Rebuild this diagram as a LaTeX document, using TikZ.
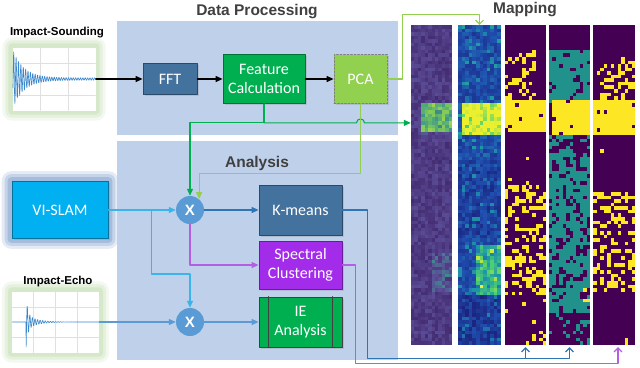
\documentclass[tikz,border=0pt]{standalone}
\usepackage{fontspec}
\setmainfont{Carlito}
\newfontfamily\headfont{Liberation Sans}
\usetikzlibrary{arrows.meta,calc,shadows,backgrounds}

\definecolor{panelblue}{HTML}{BFD1EA}
\definecolor{fftblue}{HTML}{43729F}
\definecolor{featgreen}{HTML}{00B050}
\definecolor{pcagreen}{HTML}{92D050}
\definecolor{slamcyan}{HTML}{00B0F0}
\definecolor{mixblue}{HTML}{5B9BD5}
\definecolor{specpurple}{HTML}{A32CEB}
\definecolor{slamline}{HTML}{3AB4EA}
\definecolor{steelline}{HTML}{2E75B6}
\definecolor{purpleline}{HTML}{B45FE3}
\definecolor{glowgreen}{HTML}{C5E0B4}
\definecolor{glowblue}{HTML}{7F9FCF}
\definecolor{tracecol}{HTML}{3A86CC}
% viridis stops
\definecolor{vir0}{HTML}{440154}
\definecolor{vir1}{HTML}{3B528B}
\definecolor{vir2}{HTML}{21918C}
\definecolor{vir3}{HTML}{5EC962}
\definecolor{vir4}{HTML}{FDE725}
% washed scale for the first map
\definecolor{pur0}{HTML}{3E2468}
\definecolor{pur1}{HTML}{5A4C96}
\definecolor{pur2}{HTML}{3C968C}
\definecolor{pur3}{HTML}{7CC85A}
\definecolor{pur4}{HTML}{DCE63C}
% brighter scale for the second map
\definecolor{blu0}{HTML}{1A1F78}
\definecolor{blu1}{HTML}{1F4FB0}
\definecolor{blu2}{HTML}{1E97A6}
\definecolor{blu3}{HTML}{4FD070}
\definecolor{blu4}{HTML}{F2F02A}

\tikzset{
  panel/.style={fill=panelblue, inner sep=0pt},
  paneltitle/.style={anchor=base, text=black!75, font=\headfont\bfseries\fontsize{15.5}{18}\selectfont},
  sigtitle/.style={anchor=base, font=\headfont\bfseries\fontsize{11.5}{14}\selectfont},
  plotbox/.style={fill=white, inner sep=0pt},
  procbox/.style={fill=#1, draw=#1!65!black, line width=0.8pt, text=white, align=center,
    inner sep=2pt, font=\fontsize{16}{18.5}\selectfont,
    drop shadow={opacity=0.25, shadow xshift=1.5pt, shadow yshift=-1.5pt}},
  mixer/.style={circle, fill=mixblue, text=white, minimum size=28pt, inner sep=0pt,
    font=\headfont\bfseries\fontsize{15}{15}\selectfont},
  strip/.style={inner sep=0pt, minimum height=320pt},
  gridline/.style={black!12, line width=0.5pt},
  trace/.style={tracecol, line width=0.6pt},
  flow/.style={line width=1.1pt, ->},
  mapflow/.style={line width=1.1pt, -{Straight Barb[length=4pt,width=8pt]}},
}

% one pixel of a map: colour scale, x, y, width, value
\newcommand{\mapcell}[5]{%
  \pgfmathtruncatemacro\seg{min(3,int(#5*4))}%
  \pgfmathtruncatemacro\nxt{\seg+1}%
  \pgfmathtruncatemacro\pct{(#5*4-\seg)*100}%
  \fill[#1\nxt!\pct!#1\seg] (#2,#3) rectangle ++(#4+0.15,3.71);}

\begin{document}
\begin{tikzpicture}[x=1pt, y=-1pt, line cap=round, line join=round, >={Triangle[length=7pt,width=6pt]}]
  \useasboundingbox (0,0) rectangle (640,367);
  % panels and headings
  \node[panel, minimum width=281pt, minimum height=114pt] (dp) at (257.5,78) {};
  \node[panel, minimum width=281pt, minimum height=219pt] (an) at (257.5,250.5) {};
  \node[paneltitle] (dptitle) at (257,15) {Data Processing};
  \node[paneltitle] (antitle) at (257,167) {Analysis};
  \node[paneltitle] (maptitle) at (525,13) {Mapping};
  \node[sigtitle] (soundtitle) at (57,35) {Impact-Sounding};
  \node[sigtitle] (echotitle) at (58,284) {Impact-Echo};

  % signal plots
  \node[plotbox, minimum width=83pt, minimum height=63pt] (sound) at (54,79) {};
  \node[plotbox, minimum width=87pt, minimum height=61pt] (echo) at (55.5,322) {};
  \foreach \gx in {40,68} \draw[gridline] (\gx,47.5) -- (\gx,110.5);
  \foreach \gy in {63,95} \draw[gridline] (12.5,\gy) -- (95.5,\gy);
  \foreach \gx in {33,55,77} \draw[gridline] (\gx,291.5) -- (\gx,352.5);
  \foreach \gy in {307,337} \draw[gridline] (12,\gy) -- (99,\gy);
  \draw[trace] plot[domain=13:95, samples=260] (\x, {79+(28*exp(-(\x-13)/11)+1.2)*sin(\x*151)});
  \draw[trace] plot[domain=12.5:98.5, samples=360] (\x, {322+(\x>26)*(21*exp(-max(0,\x-26)/1.5)+8*exp(-max(0,\x-26)/10))*sin((\x-26)*140+90)});

  % processing boxes
  \node[procbox=fftblue, minimum width=54pt, minimum height=31pt] (fft) at (170,79) {FFT};
  \node[procbox=featgreen, minimum width=82pt, minimum height=49pt] (feat) at (264,79) {Feature\\Calculation};
  \node[procbox=pcagreen, draw=black!50, dash pattern=on 2pt off 1.5pt, minimum width=53pt, minimum height=49pt] (pca) at (360.5,79) {PCA};
  \node[procbox=slamcyan, minimum width=96pt, minimum height=57pt] (slam) at (60,210) {VI-SLAM};
  \node[mixer] (x1) at (190,210) {X};
  \node[mixer] (x2) at (190,322) {X};
  \node[procbox=fftblue, minimum width=83pt, minimum height=50pt] (kmeans) at (300.5,210) {K-means};
  \node[procbox=specpurple, minimum width=83pt, minimum height=48pt] (spec) at (300.5,265) {Spectral\\Clustering};
  \node[procbox=featgreen, draw=black!75, minimum width=83pt, minimum height=50pt] (ie) at (300.5,322) {IE\\Analysis};
  \draw[black!75, line width=0.8pt] ([xshift=10pt]ie.north west) -- ([xshift=10pt]ie.south west);
  \draw[black!75, line width=0.8pt] ([xshift=-10pt]ie.north east) -- ([xshift=-10pt]ie.south east);

  % result maps
  \foreach \s/\cx/\w in {1/431.5/41, 2/479.5/43, 3/525.5/41, 4/569.5/41, 5/614/42}
    \node[strip, minimum width=\w pt] (strip\s) at (\cx,185) {};

  % glow behind the inputs
  \begin{scope}[on background layer]
    \fill[white] (0,0) rectangle (640,367);
    \foreach \n/\gc in {sound/glowgreen, echo/glowgreen, slam/glowblue}
      \foreach \g/\o in {10/0.2, 7/0.3, 4/0.45}
        \fill[\gc, opacity=\o, rounded corners=\g pt] ($(\n.south west)+(-\g,\g)$) rectangle ($(\n.north east)+(\g,-\g)$);
  \end{scope}

  % data processing chain
  \draw[flow] (sound.east) -- (fft.west);
  \draw[flow] (fft) -- (feat);
  \draw[flow] (feat) -- (pca);
  \draw[pcagreen, mapflow] (pca.east) -- ++(15,0) |- ([yshift=10pt]strip2.north) -- (strip2.north);
  \coordinate (fj) at ([yshift=-19pt]feat.south);
  \draw[featgreen, flow] (feat.south) -- (fj) -| (x1.north);
  \draw[featgreen, flow] (fj) -- ($(fj -| pca.south)+(-4,0)$) arc[start angle=180, end angle=360, radius=4] -- (fj -| strip1.west);
  \draw[pcagreen, flow] (pca.south) -- ++(0,70) -| (x1.50);

  % analysis
  \draw[slamline, flow] (slam.east) -- (x1.west);
  \draw[slamline, flow] (slam.east) ++(43,0) -- ++(0,64) -| (x2.north);
  \draw[mixblue, flow] (echo.east) -- (x2.west);
  \draw[steelline, flow] (x1) -- (kmeans);
  \draw[purpleline, flow] (x1.south) |- (spec.west);
  \draw[mixblue, flow] (x2) -- (ie);

  % clusters to maps
  \coordinate (kbus) at ($(strip3.south)+(0,13)$);
  \draw[steelline, mapflow] (kmeans.east) -- ++(25,0) |- ($(strip4.south)+(0,13)$) -- ([yshift=-2pt]strip4.south);
  \draw[steelline, mapflow] (kbus) -- ([yshift=-2pt]strip3.south);
  \draw[purpleline, mapflow] (spec.east) -- ++(13,0) |- ($(strip5.south)+(4,18)$) -- ([xshift=4pt,yshift=-2pt]strip5.south);

  % map pixels
  \pgfmathsetseed{2718}
  \foreach \row in {0,...,89} {
    \pgfmathsetmacro\yc{25+\row*3.55556}
    \foreach \cl in {0,...,11} {
      \pgfmathsetmacro\va{0.05+0.2*rnd+(\yc>100)*(\yc<134)*(\cl>1)*0.06+(\yc>103)*(\yc<130)*(\cl>2)*(0.3+0.3*rnd)+(\yc>250)*(\yc<290)*(\cl>5)*0.25*rnd}
      \pgfmathsetmacro\vb{min(0.99,max(0,0.12+0.22*rnd+(rnd>0.88)*0.2-(\yc>160)*(\yc<235)*0.06-(\yc>292)*0.1+(\yc>100)*(\yc<134)*(\cl>0)*(0.6+0.3*rnd)+(\yc>245)*(\yc<292)*(\cl>4)*(0.2+0.3*rnd)))}
      \pgfmathsetmacro\vc{rnd<(0.02+(\yc>50)*(\yc<100)*(\cl<9)*0.3+(\yc>99)*(\yc<131)*0.92+(\yc>185)*(\yc<295)*0.35+(\yc>330)*(\cl>7)*0.4)}
      \pgfmathsetmacro\rr{rnd}
      \pgfmathsetmacro\vd{ifthenelse(\rr<(\yc>99)*(\yc<133)*(\cl>0)*0.95+(\yc>285)*(\yc<300)*(\cl>9)*0.7, 1, ifthenelse(\rr<(\yc>48)*(\yc<100)*0.85+(\yc>133)*(\yc<150)*0.3+(\yc>150)*(\yc<312)*0.75+(\yc>312)*0.12, 0.5, 0))}
      \pgfmathsetmacro\ve{rnd<(0.01+(\yc>55)*(\yc<100)*(\cl>1)*0.3+(\yc>99)*(\yc<133)*0.92+(\yc>190)*(\yc<290)*0.33+(\yc>335)*(\cl>8)*(\cl<10)*0.8)}
      \mapcell{pur}{411+\cl*41/12}{\yc}{41/12}{\va}
      \mapcell{blu}{458+\cl*43/12}{\yc}{43/12}{\vb}
      \mapcell{vir}{505+\cl*41/12}{\yc}{41/12}{\vc}
      \mapcell{vir}{549+\cl*41/12}{\yc}{41/12}{\vd}
      \mapcell{vir}{593+\cl*42/12}{\yc}{42/12}{\ve}
    }
  }
\end{tikzpicture}
\end{document}
